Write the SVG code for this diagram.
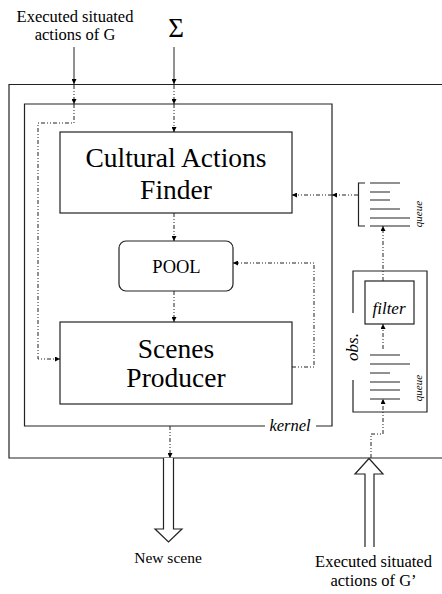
<svg xmlns="http://www.w3.org/2000/svg" width="442" height="594" viewBox="0 0 442 594">
<style>
.box{fill:none;stroke:#222;stroke-width:1.2}
.ln{fill:none;stroke:#222;stroke-width:1.2}
.dd{fill:none;stroke:#222;stroke-width:1;stroke-dasharray:4,2,1,2,1,2}
.sol{fill:none;stroke:#222;stroke-width:1}
.t{fill:#000;text-anchor:middle}
.it{font-style:italic}
.hollow{fill:#fff;stroke:#222;stroke-width:1.2}
</style>
<defs>
<marker id="ah" viewBox="0 0 10 10" refX="10" refY="5" markerWidth="6" markerHeight="5" orient="auto" markerUnits="userSpaceOnUse">
<path d="M0,0 L10,5 L0,10 z" fill="#000"/>
</marker>
</defs>
<rect fill="#fff" x="0" y="0" width="442" height="594"/>
<g font-family="Liberation Serif, Times New Roman, DejaVu Serif, serif">

<g id="texts-top">
<text class="t" x="75" y="22" font-size="16.5">Executed situated</text>
<text class="t" x="75" y="40" font-size="16.5">actions of G</text>
<text class="t" x="176" y="37" font-size="27">Σ</text>
</g>

<g id="outer">
<path class="box" d="M445,84.5 H9 V458 H445"/>
</g>

<g id="kernel">
<path class="box" d="M265,426 H24.5 V104 H332 V426 H316"/>
<text class="t it" x="290" y="431" font-size="16.5">kernel</text>
</g>

<g id="caf">
<rect class="box" x="60" y="132" width="232" height="81"/>
<text class="t" x="176" y="167" font-size="27.5">Cultural Actions</text>
<text class="t" x="176" y="199" font-size="27.5">Finder</text>
</g>

<g id="pool">
<rect class="box" x="119" y="241" width="114" height="50" rx="7"/>
<text class="t" x="176.5" y="273" font-size="18.5">POOL</text>
</g>

<g id="sp">
<rect class="box" x="60" y="322" width="232" height="82"/>
<text class="t" x="176" y="358" font-size="27.5">Scenes</text>
<text class="t" x="176" y="387" font-size="27.5">Producer</text>
</g>

<g id="queue-top">
<path class="ln" d="M365,183 H358.5 V226 H365"/>
<path class="ln" d="M370,183 H400 M370,192 H390 M370,200 H390 M370,209 H400 M370,218 H410 M370,226 H410"/>
<text class="t it" font-size="11" transform="translate(422,214) rotate(-90)">queue</text>
</g>

<g id="obs">
<path class="box" d="M353,313 V271 H427 V412 H353 V380"/>
<text class="t it" font-size="17" transform="translate(358,347) rotate(-90)">obs.</text>
</g>

<g id="filter">
<rect class="box" x="365" y="281" width="49" height="43"/>
<text class="t it" x="389" y="314" font-size="17">filter</text>
</g>

<g id="queue-bottom">
<path class="ln" d="M370,355 H400 M370,364 H410 M370,373 H390 M370,382 H400 M370,390 H400 M370,399 H400"/>
<text class="t it" font-size="11" transform="translate(422,388) rotate(-90)">queue</text>
</g>

<g id="new-scene">
<path class="hollow" d="M163.5,458 V529 H155 L168.5,542 L182,529 H173.5 V458"/>
<text class="t" x="168" y="563" font-size="15.5">New scene</text>
</g>

<g id="input-g2">
<path class="hollow" d="M365,547 V474 H355 L369,458.5 L383,474 H374 V547"/>
<text class="t" x="373.5" y="567" font-size="16.5">Executed situated</text>
<text class="t" x="373.5" y="586" font-size="16.5">actions of G’</text>
</g>
</g>

<g id="connectors">
<line class="sol" x1="74" y1="47" x2="74" y2="84" marker-end="url(#ah)"/>
<line class="sol" x1="174" y1="47" x2="174" y2="84" marker-end="url(#ah)"/>
<line class="dd" x1="74" y1="85" x2="74" y2="104" marker-end="url(#ah)"/>
<polyline class="dd" points="74,104 74,123 38,123 38,359 60,359" marker-end="url(#ah)"/>
<line class="dd" x1="174" y1="85" x2="174" y2="104" marker-end="url(#ah)"/>
<line class="dd" x1="174" y1="104" x2="174" y2="132" marker-end="url(#ah)"/>
<line class="dd" x1="174" y1="213" x2="174" y2="241" marker-end="url(#ah)"/>
<line class="dd" x1="174" y1="291" x2="174" y2="322" marker-end="url(#ah)"/>
<polyline class="dd" points="292,367 314,367 314,263 233,263" marker-end="url(#ah)"/>
<line class="dd" x1="358" y1="195" x2="332" y2="195" marker-end="url(#ah)"/>
<line class="dd" x1="332" y1="195" x2="292" y2="195" marker-end="url(#ah)"/>
<line class="dd" x1="383" y1="281" x2="383" y2="226" marker-end="url(#ah)"/>
<line class="dd" x1="383" y1="349" x2="383" y2="324" marker-end="url(#ah)"/>
<polyline class="dd" points="371,458 371,434 383,434 383,399" marker-end="url(#ah)"/>
<line class="dd" x1="170" y1="426" x2="170" y2="458" marker-end="url(#ah)"/>
</g>
</svg>
